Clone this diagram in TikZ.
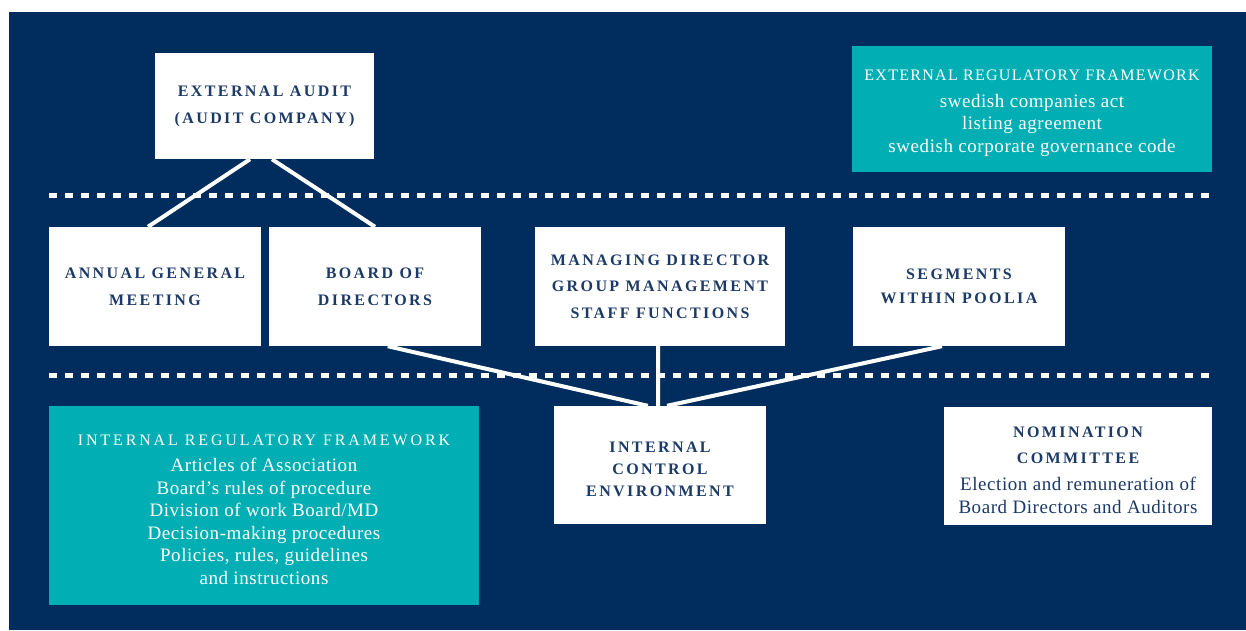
\documentclass[tikz,border=0pt]{standalone}
\usepackage{fontspec}
\setmainfont{Liberation Serif}
\newfontfamily\headfont[LetterSpace=15]{Liberation Serif}
\newfontfamily\frameheadfont[LetterSpace=8]{Liberation Serif}
\newfontfamily\innerheadfont[LetterSpace=18]{Liberation Serif}
\newfontfamily\runfont[LetterSpace=3]{Liberation Serif}
\usetikzlibrary{calc}

\definecolor{navy}{RGB}{0,45,94}
\definecolor{navytext}{RGB}{28,58,104}
\definecolor{aqua}{RGB}{0,174,179}

% title lettering inside the white boxes
\newcommand{\boxhead}[1]{\fontsize{16}{#1}\headfont\bfseries}
% running text inside the boxes
\newcommand{\boxtext}{\fontsize{19}{22.5}\runfont}

\tikzset{
  x=1pt, y=-1pt,
  whitebox/.style={fill=white, draw=none, inner sep=0pt, align=center, text=navytext},
  aquabox/.style={fill=aqua, draw=none, inner sep=0pt, align=center, text=white},
  whitetext/.style={inner sep=0pt, align=center, text=navytext},
  aquatext/.style={inner sep=0pt, align=center, text=white},
  link/.style={draw=white, line width=4pt},
  divider/.style={draw=white, line width=4.7pt, dash pattern=on 8pt off 8pt}
}

\begin{document}
\begin{tikzpicture}
  \useasboundingbox (0,0) rectangle (1246,630);
  \fill[navy] (9,12) rectangle (1246,630);

  % level dividers
  \draw[divider] (49,195.3) -- (1212,195.3);
  \draw[divider] (49,375.5) -- (1212,375.5);

  % top row
  \node[whitebox, minimum width=219, minimum height=106, font=\boxhead{27}]
    (ea) at (264.5,106) {EXTERNAL AUDIT\\(AUDIT COMPANY)};
  \node[aquabox, minimum width=360, minimum height=126,
    label={[aquatext, font=\boxtext, yshift=-4pt]center:{%
      {\fontsize{16}{22.5}\frameheadfont EXTERNAL REGULATORY FRAMEWORK}\\[4.5pt]
      swedish companies act\\listing agreement\\swedish corporate governance code}}]
    (erf) at (1032,109) {};

  % middle row
  \node[whitebox, minimum width=212, minimum height=119, font=\boxhead{27}]
    (agm) at (155,286.5) {ANNUAL GENERAL\\MEETING};
  \node[whitebox, minimum width=212, minimum height=119, font=\boxhead{27}]
    (bod) at (375,286.5) {BOARD OF\\DIRECTORS};
  \node[whitebox, minimum width=250, minimum height=119, font=\boxhead{26.5}]
    (md) at (660,286.5) {MANAGING DIRECTOR\\GROUP MANAGEMENT\\STAFF FUNCTIONS};
  \node[whitebox, minimum width=212, minimum height=119, font=\boxhead{24}]
    (seg) at (959,286.5) {SEGMENTS\\WITHIN POOLIA};

  % bottom row
  \node[aquabox, minimum width=430, minimum height=199,
    label={[aquatext, font=\boxtext, yshift=-4.5pt]center:{%
      {\fontsize{16}{22.5}\innerheadfont INTERNAL REGULATORY FRAMEWORK}\\[3.5pt]
      Articles of Association\\Board’s rules of procedure\\Division of work Board/MD\\
      Decision-making procedures\\Policies, rules, guidelines\\and instructions}}]
    (irf) at (264,505.5) {};
  \node[whitebox, minimum width=212, minimum height=118,
    label={[whitetext, font=\boxhead{22}, yshift=-4.5pt]center:{%
      INTERNAL\\CONTROL\\ENVIRONMENT}}]
    (ice) at (660,465) {};
  \node[whitebox, minimum width=268, minimum height=118,
    label={[whitetext, font=\boxtext, yshift=-4.5pt]center:{%
      {\boxhead{26}NOMINATION}\\[3.5pt]{\boxhead{26}COMMITTEE}\\[4.5pt]
      Election and remuneration of\\Board Directors and Auditors}}]
    (nc) at (1078,466) {};

  % connections
  \draw[link] ($(ea.south west)!0.434!(ea.south east)$) -- ($(agm.north west)!0.467!(agm.north east)$);
  \draw[link] ($(ea.south west)!0.534!(ea.south east)$) -- ($(bod.north west)!0.5!(bod.north east)$);
  \draw[link] ($(bod.south west)!0.56!(bod.south east)$) -- ($(ice.north west)!0.443!(ice.north east)$);
  \draw[link] ($(md.south west)!0.492!(md.south east)$) -- ($(ice.north west)!0.491!(ice.north east)$);
  \draw[link] ($(seg.south west)!0.42!(seg.south east)$) -- ($(ice.north west)!0.533!(ice.north east)$);
\end{tikzpicture}
\end{document}
